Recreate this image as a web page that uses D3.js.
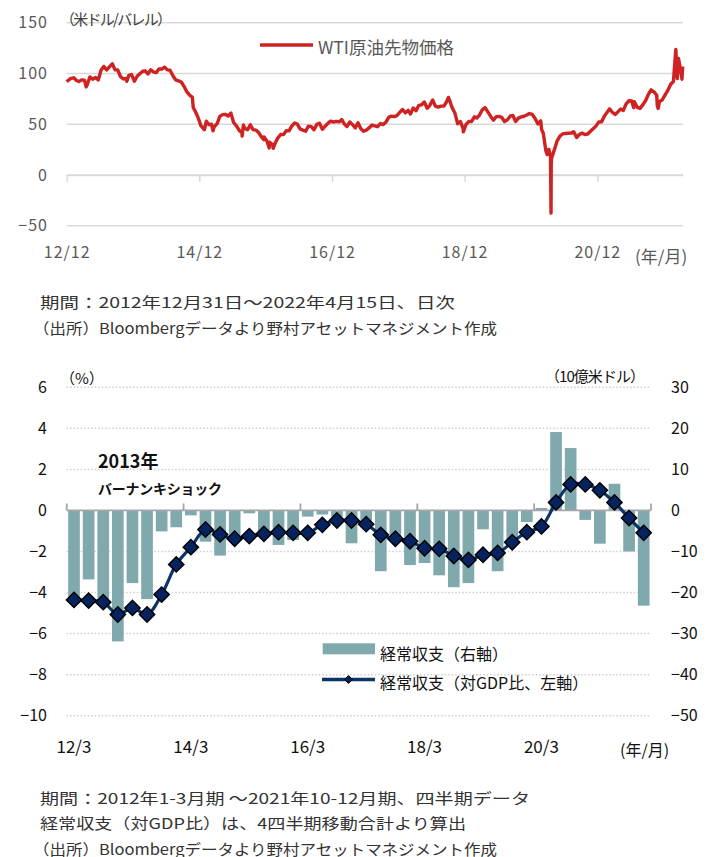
<!DOCTYPE html>
<html>
<head>
<meta charset="utf-8">
<script src="https://cdn.jsdelivr.net/npm/d3@7"></script>
<style>
  body { margin: 0; background: #fff; }
  svg text { font-family: "Noto Sans CJK JP", "Noto Sans", sans-serif; }
</style>
</head>
<body>
<svg id="chart" width="709" height="857"></svg>
<script>
// ---------- WTI crude futures, USD/bbl (~twice a month) ----------
var wtiFirst = ["2012-12-31", 91.8];
var wtiHalfMonthDays = [8, 23];
var wti2013 = [93.2, 95.2, 95.7, 93.1, 92.0, 93.7, 93.4, 88.8, 96.6, 94.3, 96.0, 93.7,
               103.1, 106.9, 103.4, 106.4, 109.5, 103.6, 103.5, 97.0, 94.6, 95.0, 98.0, 98.9];
var wti2014 = [92.3, 97.3, 99.9, 102.2, 102.6, 99.5, 103.6, 101.4, 100.8, 104.4, 104.4, 106.2,
               103.5, 103.1, 97.7, 93.7, 92.7, 91.6, 87.3, 82.1, 78.7, 76.5, 63.1, 57.1];
var wti2015 = [48.8, 45.6, 52.9, 49.5, 50.0, 47.5, 50.4, 57.7, 59.4, 59.7, 58.1, 61.0,
               51.7, 48.5, 43.9, 41.5, 45.9, 44.5, 49.4, 44.6, 44.2, 41.8, 37.5, 37.5];
var wti2016 = [33.2, 32.2, 29.7, 31.9, 36.5, 39.8, 39.7, 43.7, 43.4, 48.1, 51.2, 50.1,
               45.4, 44.2, 43.0, 48.1, 47.6, 44.5, 49.8, 50.9, 45.0, 48.0, 50.8, 53.0];
var wti2017 = [52.0, 52.8, 52.3, 54.5, 50.3, 47.7, 52.2, 49.6, 46.4, 51.5, 45.6, 43.0,
               44.2, 46.3, 49.2, 48.4, 47.5, 50.7, 49.6, 51.9, 56.8, 58.0, 57.4, 58.5];
var wti2018 = [61.7, 64.5, 61.2, 63.6, 60.1, 65.9, 63.4, 68.6, 69.1, 71.8, 65.7, 68.6,
               73.9, 67.9, 66.9, 67.8, 67.8, 72.1, 74.3, 66.4, 60.7, 50.4, 52.6, 45.6];
var wti2019 = [49.8, 52.6, 52.7, 57.3, 56.1, 59.0, 64.4, 66.3, 62.1, 57.9, 54.0, 57.4,
               57.7, 56.8, 52.5, 54.2, 57.9, 58.6, 52.6, 56.0, 57.2, 57.8, 59.0, 60.5];
var wti2020 = [59.6, 55.6, 50.3, 53.4, 41.3, 23.4, 25.1, 16.5, 24.7, 33.3, 38.2, 40.4,
               40.9, 41.1, 41.2, 42.6, 36.8, 39.9, 41.2, 39.9, 40.3, 43.1, 45.6, 48.1];
var wti2021 = [52.2, 52.3, 58.0, 61.7, 65.1, 61.8, 59.6, 62.1, 64.9, 63.6, 70.1, 73.1,
               72.9, 72.1, 66.5, 65.6, 69.3, 73.3, 79.4, 83.8, 81.9, 78.5, 72.4, 73.8];
var wti2022 = [78.9, 83.3, 89.4, 92.1, 123.7, 114.9, 98.3];
var wtiYears = [2013, 2014, 2015, 2016, 2017, 2018, 2019, 2020, 2021, 2022];
var wtiSeries = [wti2013, wti2014, wti2015, wti2016, wti2017, wti2018, wti2019, wti2020, wti2021, wti2022];
// single days that stand out on the chart
var wtiExtremes = [
   ["2013-04-17", 86.7], ["2013-11-27", 92.3], ["2014-11-28", 66.2], ["2014-12-31", 53.3],
   ["2015-01-28", 44.5], ["2015-03-17", 43.5], ["2015-08-24", 38.2], ["2015-08-31", 49.2],
   ["2015-12-21", 34.7], ["2016-01-20", 26.6], ["2016-02-11", 26.2], ["2018-10-03", 76.4],
   ["2018-12-24", 42.5], ["2020-02-28", 44.8], ["2020-03-30", 20.1], ["2020-04-17", 18.3],
   ["2020-04-20", -37.6], ["2020-04-21", 10.0], ["2021-07-19", 66.4], ["2021-11-26", 68.2],
   ["2021-12-01", 65.6], ["2022-03-16", 95.0], ["2022-04-11", 94.3], ["2022-04-15", 106.9]
];
var wtiYTicks = [150, 100, 50, 0, -50];
var wtiTickDates = ["2012-12-31", "2014-12-31", "2016-12-31", "2018-12-31", "2020-12-31"];
var wtiTickLabels = ["12/12", "14/12", "16/12", "18/12", "20/12"];

// ---------- Current account, quarterly ----------
var quarters = ["12/3", "12/6", "12/9", "12/12", "13/3", "13/6", "13/9", "13/12",
                "14/3", "14/6", "14/9", "14/12", "15/3", "15/6", "15/9", "15/12",
                "16/3", "16/6", "16/9", "16/12", "17/3", "17/6", "17/9", "17/12",
                "18/3", "18/6", "18/9", "18/12", "19/3", "19/6", "19/9", "19/12",
                "20/3", "20/6", "20/9", "20/12", "21/3", "21/6", "21/9", "21/12"];
var caTickLabels = ["12/3", "14/3", "16/3", "18/3", "20/3"];
// 10bn USD (right axis)
var caBalance = [-21.5, -16.8, -21.5, -31.9, -17.7, -21.6, -5.1, -4.1,
                 -1.2, -7.6, -11.0, -6.5, -0.7, -6.0, -8.4, -7.2,
                 -1.5, -1.0, -1.5, -8.0, -2.5, -14.8, -6.5, -13.3,
                 -12.8, -15.8, -18.7, -17.7, -4.6, -14.8, -8.0, -2.8,
                 0.6, 19.1, 15.2, -2.3, -8.1, 6.5, -10.0, -23.2];
// % of GDP (left axis)
var caGdpRatio = [-4.36, -4.39, -4.47, -5.07, -4.75, -5.07, -4.10, -2.63,
                  -1.79, -0.93, -1.17, -1.38, -1.25, -1.14, -1.06, -1.09,
                  -1.09, -0.70, -0.49, -0.49, -0.67, -1.19, -1.38, -1.50,
                  -1.84, -1.87, -2.22, -2.41, -2.16, -2.07, -1.55, -1.06,
                  -0.78, 0.39, 1.27, 1.27, 0.98, 0.39, -0.37, -1.09];
var leftTicks = [6, 4, 2, 0, -2, -4, -6, -8, -10];
var rightTicks = [30, 20, 10, 0, -10, -20, -30, -40, -50];

var numFont = "DejaVu Sans, Verdana, sans-serif";
var svg = d3.select("#chart");

// style an axis group after d3 has set its own defaults
function styleAxis(g, color, spacing) {
   g.attr("font-family", numFont).attr("font-size", 16);
   g.select(".domain").remove();
   g.selectAll("text").attr("fill", color).attr("letter-spacing", spacing);
}

// =====================================================================
// top chart
// =====================================================================
var parseDate = d3.timeParse("%Y-%m-%d");
var wtiData = [{ date: parseDate(wtiFirst[0]), value: wtiFirst[1] }];
wtiYears.forEach(function (yr, k) {
   wtiSeries[k].forEach(function (v, i) {
      wtiData.push({ date: new Date(yr, Math.floor(i / 2), wtiHalfMonthDays[i % 2]), value: v });
   });
});
wtiExtremes.forEach(function (d) {
   wtiData.push({ date: parseDate(d[0]), value: d[1] });
});
wtiData.sort(function (a, b) { return a.date - b.date; });

var wtiX = d3.scaleTime()
   .domain([parseDate("2012-12-31"), parseDate("2022-04-15")])
   .range([66.7, 682.7]);
var wtiY = d3.scaleLinear()
   .domain([-50, 150])
   .range([225.7, 22.7]);

// gridlines
svg.append("g")
   .selectAll("line")
   .data(wtiYTicks)
   .enter().append("line")
   .attr("x1", 66.7)
   .attr("x2", 683)
   .attr("y1", function (d) { return wtiY(d); })
   .attr("y2", function (d) { return wtiY(d); })
   .attr("stroke", "#d9d9d9")
   .attr("stroke-width", 1.5);

// zero line with ticks hanging down
var gTopAxis = svg.append("g")
   .attr("transform", "translate(0," + wtiY(0) + ")")
   .attr("color", "#d9d9d9")
   .call(d3.axisBottom(wtiX)
      .tickValues(wtiTickDates.map(parseDate))
      .tickSize(7)
      .tickSizeOuter(0)
      .tickFormat(""));
gTopAxis.selectAll("line, path").attr("stroke-width", 1.5);

// x tick labels
var gTopX = svg.append("g")
   .attr("transform", "translate(0,247)")
   .call(d3.axisBottom(wtiX)
      .tickValues(wtiTickDates.map(parseDate))
      .tickSize(0)
      .tickPadding(0)
      .tickFormat(function (d, i) { return wtiTickLabels[i]; }));
styleAxis(gTopX, "#595959", 1);

// y tick labels
var gTopY = svg.append("g")
   .attr("transform", "translate(51,0)")
   .call(d3.axisLeft(wtiY).tickValues(wtiYTicks).tickSize(0).tickPadding(3));
styleAxis(gTopY, "#595959", 1);

// the price line
var wtiLine = d3.line()
   .x(function (d) { return wtiX(d.date); })
   .y(function (d) { return wtiY(d.value); });

svg.append("path")
   .datum(wtiData)
   .attr("d", wtiLine)
   .attr("fill", "none")
   .attr("stroke", "#cf2222")
   .attr("stroke-width", 3.4)
   .attr("stroke-linejoin", "round");

// unit, legend, axis note
svg.append("text")
   .attr("x", 60).attr("y", 18)
   .attr("dominant-baseline", "central")
   .attr("font-size", 15)
   .attr("textLength", 112)
   .attr("fill", "#404040")
   .text("（米ドル/バレル）");

svg.append("line")
   .attr("x1", 260).attr("x2", 313)
   .attr("y1", 45).attr("y2", 45)
   .attr("stroke", "#cf2222")
   .attr("stroke-width", 3.5);
svg.append("text")
   .attr("x", 318).attr("y", 46)
   .attr("dominant-baseline", "central")
   .attr("font-size", 17.5)
   .attr("fill", "#595959")
   .text("WTI原油先物価格");

svg.append("text")
   .attr("x", 635).attr("y", 255)
   .attr("dominant-baseline", "central")
   .attr("font-size", 17)
   .attr("fill", "#595959")
   .text("(年/月)");

// notes
var topNotes = [
   { text: "期間：2012年12月31日～2022年4月15日、日次", x: 40, y: 301, w: 415 },
   { text: "（出所）Bloombergデータより野村アセットマネジメント作成", x: 33, y: 327, w: 464 }
];
var bottomNotes = [
   { text: "期間：2012年1-3月期 ～2021年10-12月期、四半期データ", x: 40, y: 797, w: 490 },
   { text: "経常収支（対GDP比）は、4四半期移動合計より算出", x: 40, y: 822, w: 426 },
   { text: "（出所）Bloombergデータより野村アセットマネジメント作成", x: 33, y: 848, w: 464 }
];
svg.append("g")
   .selectAll("text")
   .data(topNotes.concat(bottomNotes))
   .enter().append("text")
   .attr("x", function (d) { return d.x; })
   .attr("y", function (d) { return d.y; })
   .attr("dominant-baseline", "central")
   .attr("font-size", 15)
   .attr("textLength", function (d) { return d.w; })
   .attr("lengthAdjust", "spacingAndGlyphs")
   .attr("fill", "#333333")
   .text(function (d) { return d.text; });

// =====================================================================
// bottom chart
// =====================================================================
var caX = d3.scaleBand()
   .domain(quarters)
   .range([66.7, 651])
   .paddingInner(0.2)
   .paddingOuter(0.1);
var caYLeft = d3.scaleLinear()
   .domain([-10, 6])
   .range([715.7, 387.3]);
var caYRight = d3.scaleLinear()
   .domain([-50, 30])
   .range([715.7, 387.3]);

// dotted gridlines
svg.append("g")
   .selectAll("line")
   .data(leftTicks.filter(function (d) { return d !== 0; }))
   .enter().append("line")
   .attr("x1", 66.7)
   .attr("x2", 651)
   .attr("y1", function (d) { return caYLeft(d); })
   .attr("y2", function (d) { return caYLeft(d); })
   .attr("stroke", "#cfcfcf")
   .attr("stroke-width", 1.5)
   .attr("stroke-dasharray", "1.5,2");

// bars (right axis)
svg.append("g")
   .selectAll("rect")
   .data(caBalance)
   .enter().append("rect")
   .attr("x", function (d, i) { return caX(quarters[i]); })
   .attr("width", caX.bandwidth())
   .attr("y", function (d) { return caYRight(Math.max(0, d)); })
   .attr("height", function (d) { return Math.abs(caYRight(d) - caYRight(0)); })
   .attr("fill", "#7fa9ac");

// zero axis with ticks pointing up
var step = caX.step();
var boundaries = caTickLabels.map(function (q) { return caX(q) - step * 0.1; }).concat([651]);
var gZero = svg.append("g").attr("stroke", "#a6a6a6").attr("stroke-width", 1.8);
gZero.append("line")
   .attr("x1", 66.7).attr("x2", 651)
   .attr("y1", caYLeft(0)).attr("y2", caYLeft(0));
gZero.selectAll(".tick")
   .data(boundaries)
   .enter().append("line")
   .attr("class", "tick")
   .attr("x1", function (d) { return d; })
   .attr("x2", function (d) { return d; })
   .attr("y1", caYLeft(0))
   .attr("y2", caYLeft(0) - 7);

// GDP ratio line with diamond markers (left axis)
var caLine = d3.line()
   .curve(d3.curveCatmullRom.alpha(0.5))
   .x(function (d, i) { return caX(quarters[i]) + caX.bandwidth() / 2; })
   .y(function (d) { return caYLeft(d); });

svg.append("path")
   .datum(caGdpRatio)
   .attr("d", caLine)
   .attr("fill", "none")
   .attr("stroke", "#0a3566")
   .attr("stroke-width", 3.2);

var diamond = d3.symbol().type(d3.symbolDiamond2).size(150);
svg.append("g")
   .selectAll("path")
   .data(caGdpRatio)
   .enter().append("path")
   .attr("d", diamond)
   .attr("transform", function (d, i) {
      return "translate(" + (caX(quarters[i]) + caX.bandwidth() / 2) + "," + caYLeft(d) + ")";
   })
   .attr("fill", "#06225f")
   .attr("stroke", "#000")
   .attr("stroke-width", 1.4);

// left axis labels
var gLeft = svg.append("g")
   .attr("transform", "translate(50,0)")
   .call(d3.axisLeft(caYLeft).tickValues(leftTicks).tickSize(0).tickPadding(3));
styleAxis(gLeft, "#111", 0);

// right axis labels
var gRight = svg.append("g")
   .attr("transform", "translate(651,0)")
   .call(d3.axisRight(caYRight).tickValues(rightTicks).tickSize(0).tickPadding(20));
styleAxis(gRight, "#111", 0);

// x labels
svg.append("g")
   .selectAll("text")
   .data(caTickLabels)
   .enter().append("text")
   .attr("x", function (d) { return caX(d) + caX.bandwidth() / 2; })
   .attr("y", 745)
   .attr("text-anchor", "middle")
   .attr("dominant-baseline", "central")
   .attr("font-family", numFont)
   .attr("font-size", 17)
   .attr("fill", "#111")
   .text(function (d) { return d; });

svg.append("text")
   .attr("x", 620).attr("y", 749)
   .attr("dominant-baseline", "central")
   .attr("font-size", 16)
   .attr("fill", "#111")
   .text("(年/月)");

// units
svg.append("text")
   .attr("x", 60).attr("y", 377)
   .attr("dominant-baseline", "central")
   .attr("font-size", 15)
   .attr("fill", "#111")
   .text("（%）");
svg.append("text")
   .attr("x", 545).attr("y", 375)
   .attr("dominant-baseline", "central")
   .attr("font-size", 15)
   .attr("textLength", 100)
   .attr("fill", "#111")
   .text("（10億米ドル）");

// annotation
svg.append("text")
   .attr("x", 98).attr("y", 460)
   .attr("dominant-baseline", "central")
   .attr("font-size", 18)
   .attr("font-weight", "bold")
   .attr("fill", "#111")
   .text("2013年");
svg.append("text")
   .attr("x", 98).attr("y", 488)
   .attr("dominant-baseline", "central")
   .attr("font-size", 14)
   .attr("font-weight", "bold")
   .attr("textLength", 124)
   .attr("fill", "#111")
   .text("バーナンキショック");

// legend
svg.append("rect")
   .attr("x", 322.7).attr("y", 643.3)
   .attr("width", 52.3).attr("height", 11)
   .attr("fill", "#7fa9ac");
svg.append("text")
   .attr("x", 380).attr("y", 653)
   .attr("dominant-baseline", "central")
   .attr("font-size", 16)
   .attr("fill", "#111")
   .text("経常収支（右軸）");

svg.append("line")
   .attr("x1", 322).attr("x2", 375)
   .attr("y1", 679.5).attr("y2", 679.5)
   .attr("stroke", "#0a3566")
   .attr("stroke-width", 3.5);
svg.append("path")
   .attr("d", d3.symbol().type(d3.symbolDiamond2).size(40))
   .attr("transform", "translate(348.5,679.5)")
   .attr("fill", "#06225f")
   .attr("stroke", "#000")
   .attr("stroke-width", 1);
svg.append("text")
   .attr("x", 380).attr("y", 681.5)
   .attr("dominant-baseline", "central")
   .attr("font-size", 16)
   .attr("fill", "#111")
   .text("経常収支（対GDP比、左軸）");
</script>
</body>
</html>
